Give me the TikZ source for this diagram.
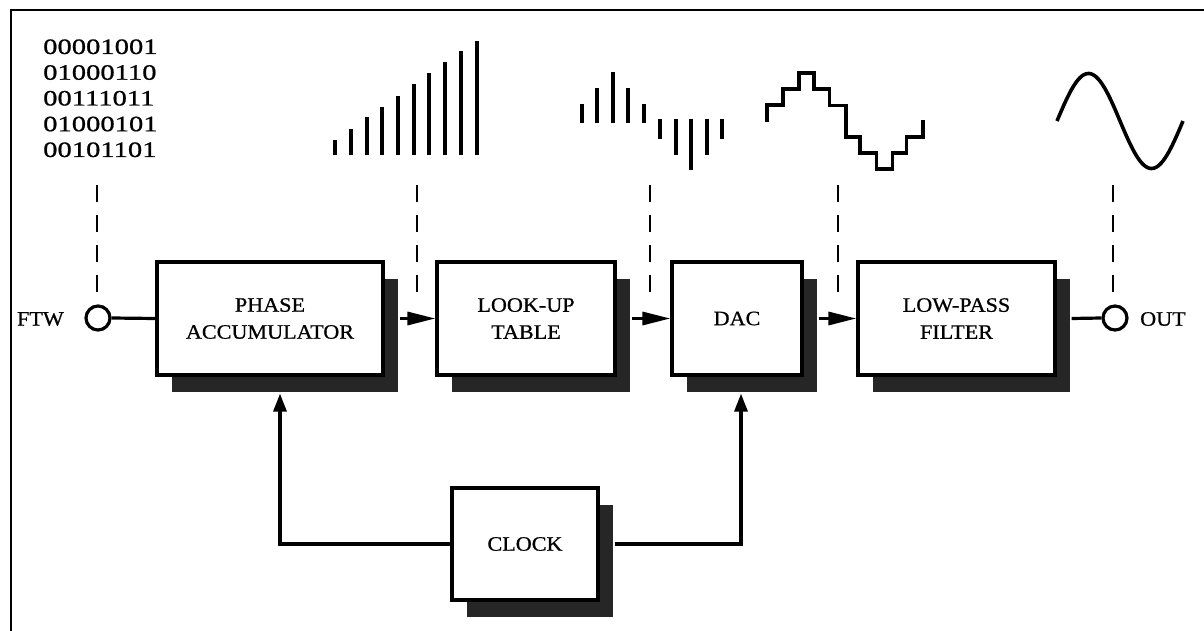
\documentclass[tikz,border=0pt]{standalone}
\usepackage{fontspec}
\setmainfont{Liberation Serif}[FakeBold=0.7]
\usetikzlibrary{arrows.meta,shadows}
\newcommand\sx[1]{\scalebox{1.08}[1]{#1}}
\newcommand\sd[1]{\scalebox{1.3}[1]{#1}}
\begin{document}
\begin{tikzpicture}[x=1pt,y=-1pt,
  blk/.style={draw, line width=3.2pt, fill=white, inner sep=0pt, align=center,
    font=\fontsize{20.5}{27}\selectfont,
    general shadow={fill=black!85, shadow xshift=15pt, shadow yshift=-17pt}},
  port/.style={circle, draw, line width=3.2pt, minimum size=24pt, inner sep=0pt, fill=white},
  lbl/.style={inner sep=0pt, font=\fontsize{20.5}{24}\selectfont},
  bits/.style={inner sep=0pt, anchor=base west, font=\fontsize{22}{26}\selectfont},
  conn/.style={line width=3.2pt},
  sig/.style={conn, -{Triangle[length=28pt,width=13pt]}},
  clkarr/.style={conn, -{Triangle[length=18pt,width=13pt]}},
  dsh/.style={line width=2pt, dash pattern=on 17pt off 13pt},
  wave/.style={line width=3.4pt},
]
\useasboundingbox (0,0) rectangle (1204,631);

% frame
\draw[line width=2.6pt] (1204,10) -- (11,10) -- (11,631);

% blocks
\node[blk, minimum width=226pt, minimum height=113pt] (pa)  at (270,318.5) {\sx{PHASE}\\\sx{ACCUMULATOR}};
\node[blk, minimum width=178pt, minimum height=113pt] (lut) at (526,318.5) {\sx{LOOK-UP}\\\sx{TABLE}};
\node[blk, minimum width=130pt, minimum height=113pt] (dac) at (737,318.5) {\sx{DAC}};
\node[blk, minimum width=197pt, minimum height=113pt] (lpf) at (956.5,318.5) {\sx{LOW-PASS}\\\sx{FILTER}};
\node[blk, minimum width=146pt, minimum height=112pt] (clk) at (525,544) {\sx{CLOCK}};

% ports
\node[port] (ftwc) at (98,318) {};
\node[port] (outc) at (1115,318) {};
\node[lbl, anchor=east] (ftw) at (64,319) {\sx{FTW}};
\node[lbl, anchor=west] (out) at (1140,319) {\sx{OUT}};

% signal path
\draw[conn] (ftwc.east) -- (pa.west);
\draw[sig] ([xshift=15pt]pa.east) -- (lut.west);
\draw[sig] ([xshift=15pt]lut.east) -- (dac.west);
\draw[sig] ([xshift=15pt]dac.east) -- (lpf.west);
\draw[conn] ([xshift=15pt]lpf.east) -- (outc.west);

% clock distribution
\draw[clkarr] (clk.west) -| ([xshift=10pt,yshift=-17pt]pa.south);
\draw[clkarr] ([xshift=15pt]clk.east) -| ([xshift=4pt,yshift=-17pt]dac.south);

% binary words
\node[bits] (b1) at (43,54)     {\sd{00001001}};
\node[bits] (b2) at (43,79.75)  {\sd{01000110}};
\node[bits] (b3) at (43,105.5)  {\sd{00111011}};
\node[bits] (b4) at (43,131.25) {\sd{01000101}};
\node[bits] (b5) at (43,157)    {\sd{00101101}};

% dashed guides
\coordinate (g1t) at (97,183);   \coordinate (g1b) at (97,292);
\coordinate (g2t) at (417,183);  \coordinate (g2b) at (417,292);
\coordinate (g3t) at (650,183);  \coordinate (g3b) at (650,292);
\coordinate (g4t) at (838,183);  \coordinate (g4b) at (838,292);
\coordinate (g5t) at (1113,183); \coordinate (g5b) at (1113,292);
\foreach \g in {1,...,5} \draw[dsh] (g\g b) -- (g\g t);

% ramp (phase accumulator output)
\foreach \xx/\tp in {335/140,351/129,367/117,382/107,398/96,414/84,429/73,445/62,461/51,477/41}
  \draw[wave] (\xx,155) -- (\xx,\tp);

% sampled sine (look-up table output)
\foreach \xx/\tp in {582/104,597/88,613/72,628/88,644/104}
  \draw[wave] (\xx,123) -- (\xx,\tp);
\foreach \xx/\bt in {660/139,676/155,691/170,707/155,722/139}
  \draw[wave] (\xx,119) -- (\xx,\bt);

% staircase (DAC output)
\draw[wave, line join=miter] (767,122) -- (767,105) -- (783,105) -- (783,89) -- (799,89) -- (799,73)
  -- (814,73) -- (814,89) -- (829.5,89) -- (829.5,105.5) -- (846,105.5) -- (846,137)
  -- (860,137) -- (860,153) -- (876.5,153) -- (876.5,169) -- (892.5,169) -- (892.5,153)
  -- (906.5,153) -- (906.5,137) -- (923,137) -- (923,120);

% smooth sine (filter output)
\draw[wave, line width=3.6pt] plot[domain=0:360, samples=72] ({1057 + \x/360*126}, {121 - 47.5*sin(\x)});
\end{tikzpicture}
\end{document}
